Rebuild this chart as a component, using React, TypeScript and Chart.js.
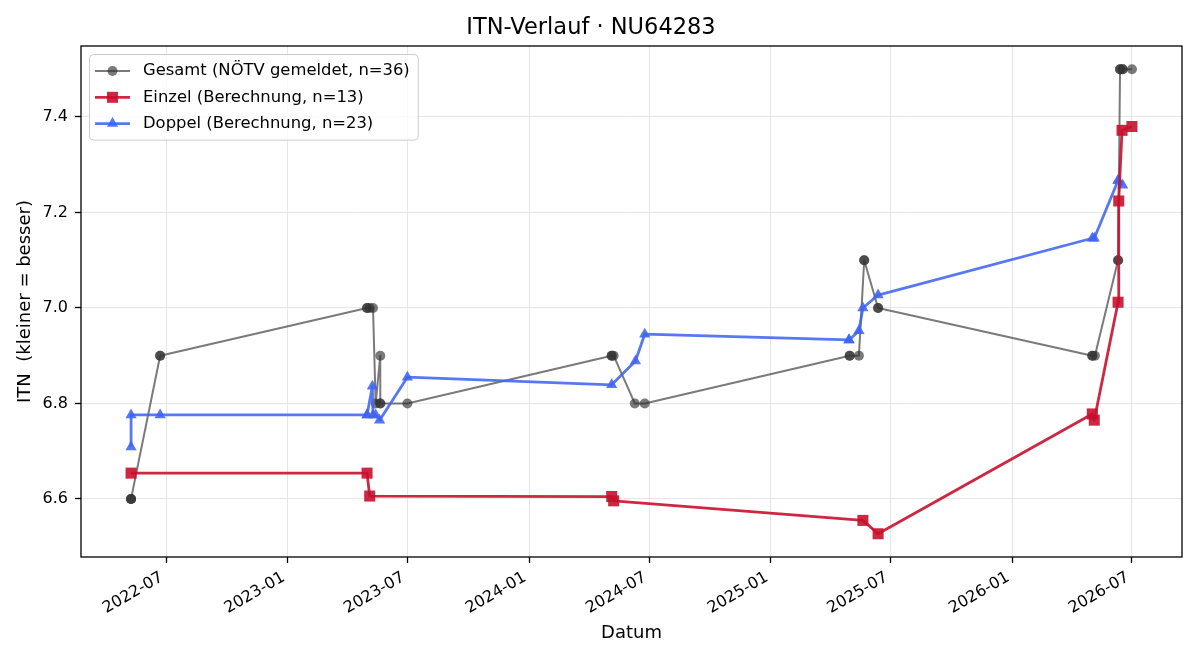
import { useEffect, useRef } from "react";
import { Chart, registerables } from "chart.js";
import { drawPoint } from "chart.js/helpers";

Chart.register(...registerables);

const TITLE = "ITN-Verlauf · NU64283";
const X_LABEL = "Datum";
const Y_LABEL = "ITN  (kleiner = besser)";

// Gesamt: officially reported ITN (NÖTV)
const gesamtDates = [
  "2022-05-09", "2022-05-09", "2022-05-09", "2022-06-22", "2022-06-22",
  "2023-05-01", "2023-05-01", "2023-05-05", "2023-05-10", "2023-05-14",
  "2023-05-21", "2023-05-21", "2023-05-21", "2023-07-01",
  "2024-05-05", "2024-05-05", "2024-05-08", "2024-06-09", "2024-06-24",
  "2025-04-30", "2025-04-30", "2025-05-14", "2025-05-22", "2025-05-22",
  "2025-06-12", "2025-06-12",
  "2026-05-02", "2026-05-02", "2026-05-06", "2026-06-10", "2026-06-10",
  "2026-06-13", "2026-06-13", "2026-06-17", "2026-06-17", "2026-07-01",
];
const gesamtValues = [
  6.6, 6.6, 6.6, 6.9, 6.9,
  7.0, 7.0, 7.0, 7.0, 6.8,
  6.9, 6.8, 6.8, 6.8,
  6.9, 6.9, 6.9, 6.8, 6.8,
  6.9, 6.9, 6.9, 7.1, 7.1,
  7.0, 7.0,
  6.9, 6.9, 6.9, 7.1, 7.1,
  7.5, 7.5, 7.5, 7.5, 7.5,
];

// Einzel: computed singles ITN
const einzelDates = [
  "2022-05-09", "2023-05-01", "2023-05-05", "2024-05-05", "2024-05-08",
  "2025-05-20", "2025-06-12", "2026-05-02", "2026-05-05", "2026-06-10",
  "2026-06-11", "2026-06-16", "2026-07-01",
];
const einzelValues = [
  6.654, 6.654, 6.606, 6.605, 6.596,
  6.555, 6.527, 6.778, 6.765, 7.012,
  7.224, 7.372, 7.38,
];

// Doppel: computed doubles ITN
const doppelDates = [
  "2022-05-09", "2022-05-09", "2022-06-22",
  "2023-05-01", "2023-05-01", "2023-05-09", "2023-05-10", "2023-05-14",
  "2023-05-20", "2023-07-01",
  "2024-05-05", "2024-06-10", "2024-06-24",
  "2025-04-29", "2025-04-29", "2025-05-14", "2025-05-20", "2025-06-12",
  "2026-05-02", "2026-05-05", "2026-06-10", "2026-06-10", "2026-06-17",
];
const doppelValues = [
  6.709, 6.776, 6.776,
  6.776, 6.776, 6.836, 6.776, 6.776,
  6.765, 6.855,
  6.839, 6.889, 6.945,
  6.933, 6.933, 6.952, 7.0, 7.027,
  7.146, 7.146, 7.267, 7.267, 7.257,
];

const xTickMonths = [
  "2022-07", "2023-01", "2023-07", "2024-01", "2024-07",
  "2025-01", "2025-07", "2026-01", "2026-07",
];
const yTickValues = [6.6, 6.8, 7.0, 7.2, 7.4];

const FONT = '"DejaVu Sans", sans-serif';
const GRAY = "rgba(51,51,51,0.65)";
const RED = "rgba(200,16,46,0.9)";
const BLUE = "rgba(65,100,240,0.88)";

const toMs = (s: string) => {
  const [y, m, d] = s.split("-").map(Number);
  return Date.UTC(y, m - 1, d || 1);
};
const fmtMonth = (ms: number) => {
  const d = new Date(ms);
  return `${d.getUTCFullYear()}-${String(d.getUTCMonth() + 1).padStart(2, "0")}`;
};
const points = (dates: string[], values: number[]) =>
  dates.map((d, i) => ({ x: toMs(d), y: values[i] }));

// 5 % padding on both sides of the data range
const withMargin = (vals: number[]) => {
  const lo = Math.min(...vals);
  const hi = Math.max(...vals);
  const m = (hi - lo) * 0.05;
  return [lo - m, hi + m];
};

const allX = [...gesamtDates, ...einzelDates, ...doppelDates].map(toMs);
const allY = [...gesamtValues, ...einzelValues, ...doppelValues];
const [X_MIN, X_MAX] = withMargin(allX);
const [Y_MIN, Y_MAX] = withMargin(allY);

const framePlugin = {
  id: "frame",
  afterDatasetsDraw(chart: any) {
    const { ctx, chartArea } = chart;
    const { left, top, right, bottom } = chartArea;
    ctx.save();
    ctx.strokeStyle = "#000";
    ctx.lineWidth = 1.3;
    ctx.strokeRect(left, top, right - left, bottom - top);
    ctx.restore();
  },
};

const legendPlugin = {
  id: "boxLegend",
  afterDraw(chart: any) {
    const { ctx, chartArea } = chart;
    const sets = chart.data.datasets;
    ctx.save();
    ctx.font = `16.4px ${FONT}`;
    const textW = Math.max(...sets.map((d: any) => ctx.measureText(d.label).width));
    const x0 = chartArea.left + 8;
    const y0 = chartArea.top + 8;
    const rowH = 26.3;
    const w = 54 + textW + 8;
    const h = 17 + rowH * (sets.length - 1) + 16;
    ctx.beginPath();
    ctx.roundRect(x0 + 0.5, y0 + 0.5, w, h, 4);
    ctx.fillStyle = "rgba(255,255,255,0.8)";
    ctx.fill();
    ctx.strokeStyle = "#cccccc";
    ctx.lineWidth = 1;
    ctx.stroke();
    sets.forEach((d: any, i: number) => {
      const cy = y0 + 17 + i * rowH;
      ctx.beginPath();
      ctx.moveTo(x0 + 6, cy);
      ctx.lineTo(x0 + 41, cy);
      ctx.strokeStyle = d.borderColor;
      ctx.lineWidth = d.borderWidth;
      ctx.stroke();
      ctx.fillStyle = d.pointBackgroundColor;
      drawPoint(ctx, { pointStyle: d.pointStyle, rotation: 0, radius: d.pointRadius, borderWidth: 0 }, x0 + 23.5, cy);
      ctx.fillStyle = "#000";
      ctx.textBaseline = "middle";
      ctx.textAlign = "left";
      ctx.fillText(d.label, x0 + 54, cy);
    });
    ctx.restore();
  },
};

export default function App() {
  const ref = useRef<HTMLCanvasElement>(null);

  useEffect(() => {
    if (!ref.current) return;
    const chart = new Chart(ref.current, {
      type: "line",
      data: {
        datasets: [
          {
            label: `Gesamt (NÖTV gemeldet, n=${gesamtValues.length})`,
            data: points(gesamtDates, gesamtValues),
            borderColor: GRAY,
            backgroundColor: GRAY,
            pointBackgroundColor: GRAY,
            pointBorderWidth: 0,
            pointRadius: 5,
            pointStyle: "circle",
            borderWidth: 2,
            order: 3,
          },
          {
            label: `Einzel (Berechnung, n=${einzelValues.length})`,
            data: points(einzelDates, einzelValues),
            borderColor: RED,
            backgroundColor: RED,
            pointBackgroundColor: RED,
            pointBorderWidth: 0,
            pointRadius: 7.8,
            pointStyle: "rect",
            borderWidth: 2.8,
            order: 1,
          },
          {
            label: `Doppel (Berechnung, n=${doppelValues.length})`,
            data: points(doppelDates, doppelValues),
            borderColor: BLUE,
            backgroundColor: BLUE,
            pointBackgroundColor: BLUE,
            pointBorderWidth: 0,
            pointRadius: 6.5,
            pointStyle: "triangle",
            borderWidth: 2.8,
            order: 2,
          },
        ] as any,
      },
      options: {
        responsive: false,
        animation: false,
        devicePixelRatio: 1,
        parsing: false,
        normalized: true,
        borderJoinStyle: "round",
        layout: { padding: { left: 0, right: 18, top: 0, bottom: 0 } },
        elements: { line: { tension: 0, borderJoinStyle: "round" } },
        plugins: {
          legend: { display: false },
          tooltip: { enabled: false },
          title: {
            display: true,
            text: TITLE,
            color: "#000",
            font: { family: FONT, size: 22.5, weight: "normal" },
            padding: { top: 15, bottom: 4 },
          },
        },
        scales: {
          x: {
            type: "linear",
            min: X_MIN,
            max: X_MAX,
            afterBuildTicks: (scale: any) => {
              scale.ticks = xTickMonths.map((m) => ({ value: toMs(m) }));
            },
            afterFit: (scale: any) => {
              scale.height = 103;
              scale.paddingLeft = 0;
              scale.paddingRight = 0;
            },
            ticks: {
              autoSkip: false,
              minRotation: 30,
              maxRotation: 30,
              padding: 5,
              labelOffset: -4,
              color: "#000",
              font: { family: FONT, size: 16 },
              callback: (v: any) => fmtMonth(Number(v)),
            },
            grid: {
              color: "#e6e6e6",
              lineWidth: 1,
              tickLength: 6,
              tickColor: "#000",
              tickWidth: 1.3,
            },
            border: { display: false },
            title: {
              display: true,
              text: X_LABEL,
              color: "#000",
              font: { family: FONT, size: 18 },
              padding: { top: 0, bottom: 16 },
            },
          },
          y: {
            type: "linear",
            min: Y_MIN,
            max: Y_MAX,
            afterBuildTicks: (scale: any) => {
              scale.ticks = yTickValues.map((v) => ({ value: v }));
            },
            afterFit: (scale: any) => {
              scale.width = 81;
              scale.paddingTop = 0;
              scale.paddingBottom = 0;
            },
            ticks: {
              padding: 7,
              color: "#000",
              font: { family: FONT, size: 16 },
              callback: (v: any) => Number(v).toFixed(1),
            },
            grid: {
              color: "#e6e6e6",
              lineWidth: 1,
              tickLength: 6,
              tickColor: "#000",
              tickWidth: 1.3,
            },
            border: { display: false },
            title: {
              display: true,
              text: Y_LABEL,
              color: "#000",
              font: { family: FONT, size: 18 },
              padding: { top: 15, bottom: 0 },
            },
          },
        },
      } as any,
      plugins: [framePlugin, legendPlugin],
    });
    return () => chart.destroy();
  }, []);

  return (
    <div style={{ position: "absolute", left: 0, top: 0, width: 1200, height: 660, background: "#fff" }}>
      <canvas ref={ref} width={1200} height={660} />
    </div>
  );
}
